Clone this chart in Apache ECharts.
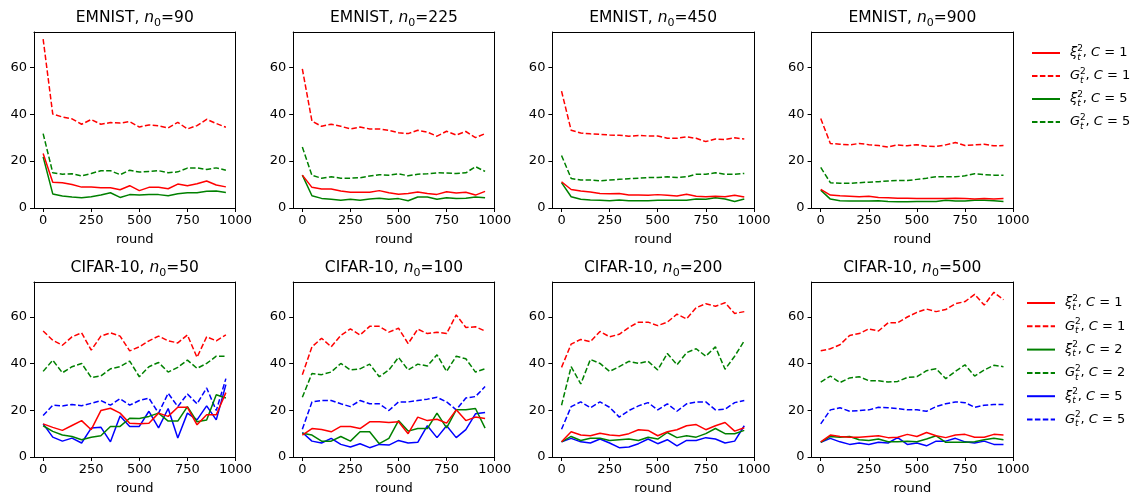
<!DOCTYPE html>
<html>
<head>
<meta charset="utf-8">
<script src="https://cdn.jsdelivr.net/npm/echarts@6/dist/echarts.min.js"></script>
<style>
  html, body { margin: 0; padding: 0; background: #fff; }
  #chart { width: 1130px; height: 496px; }
</style>
</head>
<body>
<div id="chart"></div>
<script>
// x values (round) shared by every panel
const rounds = [0, 50, 100, 150, 200, 250, 300, 350, 400, 450, 500, 550, 600, 650, 700, 750, 800, 850, 900, 950];
const xTicks = [0, 250, 500, 750, 1000];
const yTicks = [0, 20, 40, 60];

// EMNIST, n0=90
const em90XiC1 = [23.2, 11, 10.8, 10, 8.9, 9, 8.6, 8.6, 7.8, 9.5, 7.4, 8.8, 8.8, 8.2, 10.2, 9.5, 10.3, 11.5, 9.8, 9];
const em90GC1 = [72, 40, 38.8, 38, 35.7, 37.7, 35.7, 36.4, 36.2, 36.8, 34.5, 35.4, 35, 34.1, 36.5, 33.7, 35.1, 37.8, 36, 34.4];
const em90XiC5 = [21.8, 6, 5.1, 4.7, 4.4, 4.8, 5.5, 6.5, 4.5, 5.7, 5.5, 5.8, 5.7, 5.2, 6.1, 6.5, 6.5, 7.1, 7.2, 6.6];
const em90GC5 = [31.7, 15, 14.4, 14.6, 13.7, 14.7, 15.9, 15.9, 14.2, 16.1, 15.3, 15.6, 15.9, 15, 15.4, 17, 17.1, 16.4, 17.1, 16.1];

// EMNIST, n0=225
const em225XiC1 = [14, 8.8, 8.1, 8.1, 7.2, 6.7, 6.7, 6.7, 7.4, 6.5, 5.9, 6.2, 6.8, 6.2, 5.8, 6.9, 6.4, 6.7, 5.5, 7.1];
const em225GC1 = [59.3, 37, 34.8, 35.7, 34.8, 33.7, 34.5, 33.7, 33.7, 33.1, 32.1, 31.7, 33.1, 32.3, 30.6, 32.7, 31.1, 32.6, 30, 31.7];
const em225XiC5 = [14, 5.2, 4.1, 3.7, 3.3, 3.7, 3.3, 3.8, 4.2, 3.7, 4, 3.1, 4.7, 4.7, 3.7, 4.4, 4, 4.2, 4.7, 4.4];
const em225GC5 = [26, 13.9, 12.7, 13.3, 12.7, 12.7, 12.9, 13.6, 14.2, 14, 14.6, 13.7, 14.4, 14.6, 15, 14.9, 14.7, 15, 17.6, 15.6];

// EMNIST, n0=450
const em450XiC1 = [11.2, 7.9, 7.2, 6.8, 6.2, 6.1, 6.2, 5.5, 5.5, 5.4, 5.7, 5.4, 5.1, 5.9, 5, 4.8, 5, 4.8, 5.4, 4.7];
const em450GC1 = [49.8, 33.1, 32, 31.6, 31.4, 31.1, 31, 30.6, 30.9, 30.7, 30.7, 29.7, 29.7, 30.3, 29.7, 28.3, 29.4, 29.2, 29.9, 29.4];
const em450XiC5 = [10.8, 4.8, 3.7, 3.4, 3.3, 3.1, 3.4, 3.1, 3.1, 3.1, 3.3, 3.3, 3.3, 3.3, 3.8, 3.7, 4.4, 3.8, 2.8, 3.8];
const em450GC5 = [22.4, 12.6, 11.9, 11.9, 11.6, 11.9, 12.2, 12.5, 12.7, 13, 13, 13.3, 13, 13.3, 14.4, 14.4, 15, 14.4, 14.4, 14.7];

// EMNIST, n0=900
const em900XiC1 = [7.9, 5.5, 5.2, 5, 4.8, 5, 4.5, 4.4, 4.2, 4.2, 4.1, 4, 4, 4.1, 4.2, 4, 3.8, 4, 3.8, 4];
const em900GC1 = [38.1, 27.5, 27.2, 26.9, 27.5, 27, 26.6, 26, 26.9, 26.5, 27, 26.3, 26.2, 26.9, 27.9, 26.6, 26.9, 27.2, 26.5, 26.6];
const em900XiC5 = [7.6, 3.8, 3.1, 3, 3, 3, 3.1, 2.8, 2.7, 2.7, 2.8, 2.8, 2.8, 3.3, 3, 3, 3.3, 3.3, 3.1, 2.8];
const em900GC5 = [17.3, 10.8, 10.5, 10.5, 10.8, 11, 11.2, 11.5, 11.7, 11.7, 12.2, 12.7, 13.3, 13.3, 13.3, 13.7, 14.6, 14.2, 14, 14];

// CIFAR-10, n0=50
const cf50XiC1 = [14.2, 12.7, 11.4, 13.5, 15.6, 11.7, 19.9, 20.9, 18.8, 14.5, 14.2, 14.5, 18.8, 17.4, 21.3, 21.3, 13.8, 18.1, 18.1, 27.6];
const cf50GC1 = [54, 50, 47.9, 51.5, 53.2, 45.8, 51.8, 53.2, 51.8, 45.5, 47.2, 49.8, 51.8, 49.8, 48.9, 52.3, 42.7, 51.5, 49.8, 52.3];
const cf50XiC2 = [13.4, 11, 9.4, 8.8, 7.4, 8.5, 9.1, 13.1, 13.1, 16.6, 16.5, 17.4, 18.8, 15.4, 15.4, 21.6, 15.1, 15.9, 26.7, 25.3];
const cf50GC2 = [36.7, 41.5, 36.1, 38.7, 40.1, 34.1, 34.7, 37.8, 38.7, 41.1, 34.4, 38.7, 40.5, 36.4, 38.4, 41.5, 38, 40.1, 43.2, 43.2];
const cf50XiC5 = [14.2, 8.5, 6.8, 8.1, 6, 12.4, 12.8, 6.5, 17.6, 13.1, 13.1, 19.6, 12.5, 20.8, 8.1, 18.8, 15.9, 21.9, 15.9, 31];
const cf50GC5 = [17.8, 22.2, 21.9, 22.5, 22, 23, 24.2, 22.2, 25, 22.2, 24.2, 25.2, 18.8, 27.3, 21.6, 27, 22.8, 29.6, 19.9, 33.6];

// CIFAR-10, n0=100
const cf100XiC1 = [9.4, 12.2, 11.8, 10.8, 13.1, 13.1, 12.2, 15.1, 15.1, 14.8, 15.1, 10, 17.1, 15.6, 16.2, 14.5, 20.2, 15.6, 17.1, 16.5];
const cf100GC1 = [35.3, 47.2, 50.9, 47.2, 52.1, 54.9, 52.3, 56, 56, 53.5, 55.2, 48.6, 54.8, 52.9, 53.5, 52.9, 60.9, 55.5, 55.8, 54];
const cf100XiC2 = [10.2, 9.4, 6.8, 6.8, 8.8, 6.8, 10.8, 10.8, 5.7, 8, 15.6, 11.1, 12.2, 12.2, 18.8, 12.5, 20.2, 20.3, 20.8, 12.4];
const cf100GC2 = [25.6, 35.8, 35.3, 36.4, 40.1, 37.3, 37.8, 39.8, 34.4, 37.3, 42.7, 37.3, 39.8, 39, 43.8, 36.7, 43.2, 42.1, 36.4, 37.8];
const cf100XiC5 = [10.5, 6.8, 6, 8, 5.4, 4.3, 5.7, 4, 5.4, 5.1, 7.1, 6, 6.3, 13.4, 8.3, 13.4, 8.3, 11.7, 18.5, 19.1];
const cf100GC5 = [11.9, 23.6, 24.2, 24.2, 22.8, 21.6, 24.2, 22.8, 22.8, 19.9, 23.6, 23.6, 24.2, 24.8, 25.6, 23.6, 20.2, 25.3, 25.9, 30.2];

// CIFAR-10, n0=200
const cf200XiC1 = [6.5, 10.8, 9.4, 9.1, 10.2, 9.4, 9.1, 10, 11.7, 11.4, 9.1, 10.8, 11.7, 13.4, 13.9, 11.7, 13.4, 14.8, 11.1, 12.5];
const cf200GC1 = [38.4, 48.4, 50.4, 49.4, 53.8, 51.5, 52.6, 55.5, 57.8, 57.8, 56.3, 57.8, 61.2, 59.2, 64, 65.7, 64.6, 66.1, 61.5, 62.3];
const cf200XiC2 = [6.5, 8.8, 7.1, 8, 8, 7.1, 7.4, 7.7, 7.1, 8.5, 7.7, 10.5, 8.3, 9.1, 8.5, 10, 12.2, 10, 10, 11.4];
const cf200GC2 = [22.2, 38.7, 31.3, 41.8, 40.1, 36.7, 38.7, 41, 40.1, 41, 37.3, 44.4, 39.5, 44.7, 46.4, 43.2, 47.2, 37.6, 43.2, 49.8];
const cf200XiC5 = [6.5, 8, 6.5, 6, 7.7, 6, 4, 4.3, 5.7, 7.7, 5.7, 7.4, 4.8, 7.1, 7.1, 8.3, 7.7, 6, 6.8, 13.4];
const cf200GC5 = [11.9, 21.6, 23.6, 21.1, 23.6, 21.3, 17.1, 19.9, 21.9, 23.3, 20.2, 22.8, 19.6, 22.8, 23.6, 23.6, 20.2, 20.5, 23.3, 24.2];

// CIFAR-10, n0=500
const cf500XiC1 = [6.5, 9.4, 8.8, 8.5, 8.5, 8.8, 9.1, 8.3, 8.5, 9.7, 8.8, 10.5, 9.1, 8.3, 9.4, 9.7, 8.5, 8.5, 9.7, 9.4];
const cf500GC1 = [45.5, 46.4, 48.1, 52.1, 52.9, 54.9, 54, 57.5, 57.5, 60, 62, 63.4, 62.3, 63.2, 65.7, 66.6, 69.7, 65.1, 70.6, 67.4];
const cf500XiC2 = [6.3, 8.8, 8.5, 8.8, 7.4, 7.1, 7.7, 6.5, 6.5, 6.8, 6.5, 7.7, 9.1, 6.3, 6.3, 6.3, 6.5, 7.4, 8, 7.4];
const cf500GC2 = [32.1, 34.7, 31.9, 33.9, 34.4, 32.7, 32.7, 32.1, 32.4, 34.1, 34.4, 37, 37.8, 33.6, 36.7, 39.5, 34.7, 37.3, 39.3, 38.7];
const cf500XiC5 = [6.3, 8, 6.5, 5.4, 6, 5.4, 6.3, 6, 8.3, 5.4, 6, 4.8, 6.8, 6.8, 8, 6.5, 6, 6.8, 5.4, 5.4];
const cf500GC5 = [14.2, 20.2, 21.1, 19.6, 19.9, 20.2, 21.3, 21.1, 20.8, 20.2, 20.2, 19.6, 21.6, 22.8, 23.6, 23.3, 21.3, 22.2, 22.5, 22.5];

const titles = [
  ['EMNIST, ', '90'], ['EMNIST, ', '225'], ['EMNIST, ', '450'], ['EMNIST, ', '900'],
  ['CIFAR-10, ', '50'], ['CIFAR-10, ', '100'], ['CIFAR-10, ', '200'], ['CIFAR-10, ', '500']
];

const RED = '#ff0000', GREEN = '#008000', BLUE = '#0000ff';
const DASH = [5.5, 2.4];
const FONT = 'DejaVu Sans';

// series keys: row 1 uses C = 1, 5 ; row 2 uses C = 1, 2, 5
const row1Keys = [
  { key: 'r1_xi1', color: RED, dashed: false, sym: 'xi', c: 1 },
  { key: 'r1_g1', color: RED, dashed: true, sym: 'G', c: 1 },
  { key: 'r1_xi5', color: GREEN, dashed: false, sym: 'xi', c: 5 },
  { key: 'r1_g5', color: GREEN, dashed: true, sym: 'G', c: 5 }
];
const row2Keys = [
  { key: 'r2_xi1', color: RED, dashed: false, sym: 'xi', c: 1 },
  { key: 'r2_g1', color: RED, dashed: true, sym: 'G', c: 1 },
  { key: 'r2_xi2', color: GREEN, dashed: false, sym: 'xi', c: 2 },
  { key: 'r2_g2', color: GREEN, dashed: true, sym: 'G', c: 2 },
  { key: 'r2_xi5', color: BLUE, dashed: false, sym: 'xi', c: 5 },
  { key: 'r2_g5', color: BLUE, dashed: true, sym: 'G', c: 5 }
];

const panelData = [
  [em90XiC1, em90GC1, em90XiC5, em90GC5],
  [em225XiC1, em225GC1, em225XiC5, em225GC5],
  [em450XiC1, em450GC1, em450XiC5, em450GC5],
  [em900XiC1, em900GC1, em900XiC5, em900GC5],
  [cf50XiC1, cf50GC1, cf50XiC2, cf50GC2, cf50XiC5, cf50GC5],
  [cf100XiC1, cf100GC1, cf100XiC2, cf100GC2, cf100XiC5, cf100GC5],
  [cf200XiC1, cf200GC1, cf200XiC2, cf200GC2, cf200XiC5, cf200GC5],
  [cf500XiC1, cf500GC1, cf500XiC2, cf500GC2, cf500XiC5, cf500GC5]
];

const lefts = [34, 293.2, 552.4, 811.6];
const plotW = 201.5;
const rowTop = [32, 282];
const rowH = [176, 175.5];

const grids = [], xAxes = [], yAxes = [], series = [], titleList = [];
const frameX = [], frameY = [];
const legendLabel = {};
row1Keys.concat(row2Keys).forEach(k => {
  const head = k.sym === 'xi' ? '{i|ξ}' : '{i|G}';
  legendLabel[k.key] = head + '{sup|2}{sub|t}{r|, }{i|C}{r| = ' + k.c + '}';
});

const spine = { show: true, onZero: false, lineStyle: { color: '#000', width: 1 } };

for (let p = 0; p < 8; p++) {
  const row = p < 4 ? 0 : 1;
  const col = p % 4;
  grids.push({ left: lefts[col], top: rowTop[row], width: plotW, height: rowH[row] });
  xAxes.push({
    gridIndex: p, type: 'value', min: -47.5, max: 1000, position: 'bottom',
    axisLine: spine,
    axisTick: { show: true, length: 4, lineStyle: { color: '#000' }, customValues: xTicks },
    axisLabel: { customValues: xTicks, fontSize: 13, color: '#000', margin: 6, fontFamily: FONT, formatter: v => String(v) },
    splitLine: { show: false },
    name: 'round', nameLocation: 'middle', nameGap: 25,
    nameTextStyle: { fontSize: 13, color: '#000', fontFamily: FONT, verticalAlign: 'top' }
  });
  yAxes.push({
    gridIndex: p, type: 'value', min: 0, max: 75, position: 'left',
    axisLine: spine,
    axisTick: { show: true, length: 4, lineStyle: { color: '#000' }, customValues: yTicks },
    axisLabel: { customValues: yTicks, fontSize: 13, color: '#000', margin: 7, fontFamily: FONT },
    splitLine: { show: false }
  });
  // top and right spines
  frameX.push({
    gridIndex: p, type: 'value', min: -47.5, max: 1000, position: 'top',
    axisLine: spine, axisTick: { show: false }, axisLabel: { show: false }, splitLine: { show: false }
  });
  frameY.push({
    gridIndex: p, type: 'value', min: 0, max: 75, position: 'right',
    axisLine: spine, axisTick: { show: false }, axisLabel: { show: false }, splitLine: { show: false }
  });
  const keys = row === 0 ? row1Keys : row2Keys;
  keys.forEach((k, j) => {
    series.push({
      name: k.key, type: 'line', xAxisIndex: p, yAxisIndex: p,
      data: rounds.map((r, n) => [r, panelData[p][j][n]]),
      symbol: 'none', showSymbol: false,
      lineStyle: { color: k.color, width: 1.5, type: k.dashed ? DASH : 'solid' },
      itemStyle: { color: k.color },
      z: 10 - j
    });
  });
  titleList.push({
    text: '{r|' + titles[p][0] + '}{i|n}{sub|0}{r|=' + titles[p][1] + '}',
    left: lefts[col] + plotW / 2, top: row === 0 ? 7 : 257, textAlign: 'center', padding: 0,
    textStyle: {
      fontWeight: 'normal',
      rich: {
        r: { fontSize: 15.5, fontFamily: FONT, fontWeight: 'normal', color: '#000', lineHeight: 22 },
        i: { fontSize: 15.5, fontFamily: FONT, fontWeight: 'normal', fontStyle: 'italic', color: '#000', lineHeight: 22 },
        sub: { fontSize: 11, fontFamily: FONT, fontWeight: 'normal', color: '#000', lineHeight: 10, verticalAlign: 'bottom' }
      }
    }
  });
}

const legendRich = {
  r: { fontSize: 13, fontFamily: FONT, color: '#000', lineHeight: 18 },
  i: { fontSize: 13, fontFamily: FONT, fontStyle: 'italic', color: '#000', lineHeight: 18 },
  sup: { fontSize: 9, fontFamily: FONT, color: '#000', lineHeight: 10, verticalAlign: 'top', width: 0 },
  sub: { fontSize: 9, fontFamily: FONT, fontStyle: 'italic', color: '#000', lineHeight: 10, verticalAlign: 'bottom', padding: [0, 2, 0, 0] }
};

const legendBase = {
  orient: 'vertical', itemWidth: 28, itemHeight: 14, padding: 0,
  itemStyle: { opacity: 0, borderWidth: 0 },
  formatter: n => legendLabel[n],
  textStyle: { padding: [0, 0, 0, 5], rich: legendRich }, selectedMode: false
};
const legends = [
  Object.assign({}, legendBase, { data: row1Keys.map(k => k.key), left: 1031, top: 44, itemGap: 5 }),
  Object.assign({}, legendBase, { data: row2Keys.map(k => k.key), left: 1026, top: 294, itemGap: 5.3 })
];

const chart = echarts.init(document.getElementById('chart'), null, { renderer: 'canvas' });
chart.setOption({
  animation: false,
  backgroundColor: '#fff',
  title: titleList,
  legend: legends,
  grid: grids,
  xAxis: xAxes.concat(frameX),
  yAxis: yAxes.concat(frameY),
  series: series
});
</script>
</body>
</html>
